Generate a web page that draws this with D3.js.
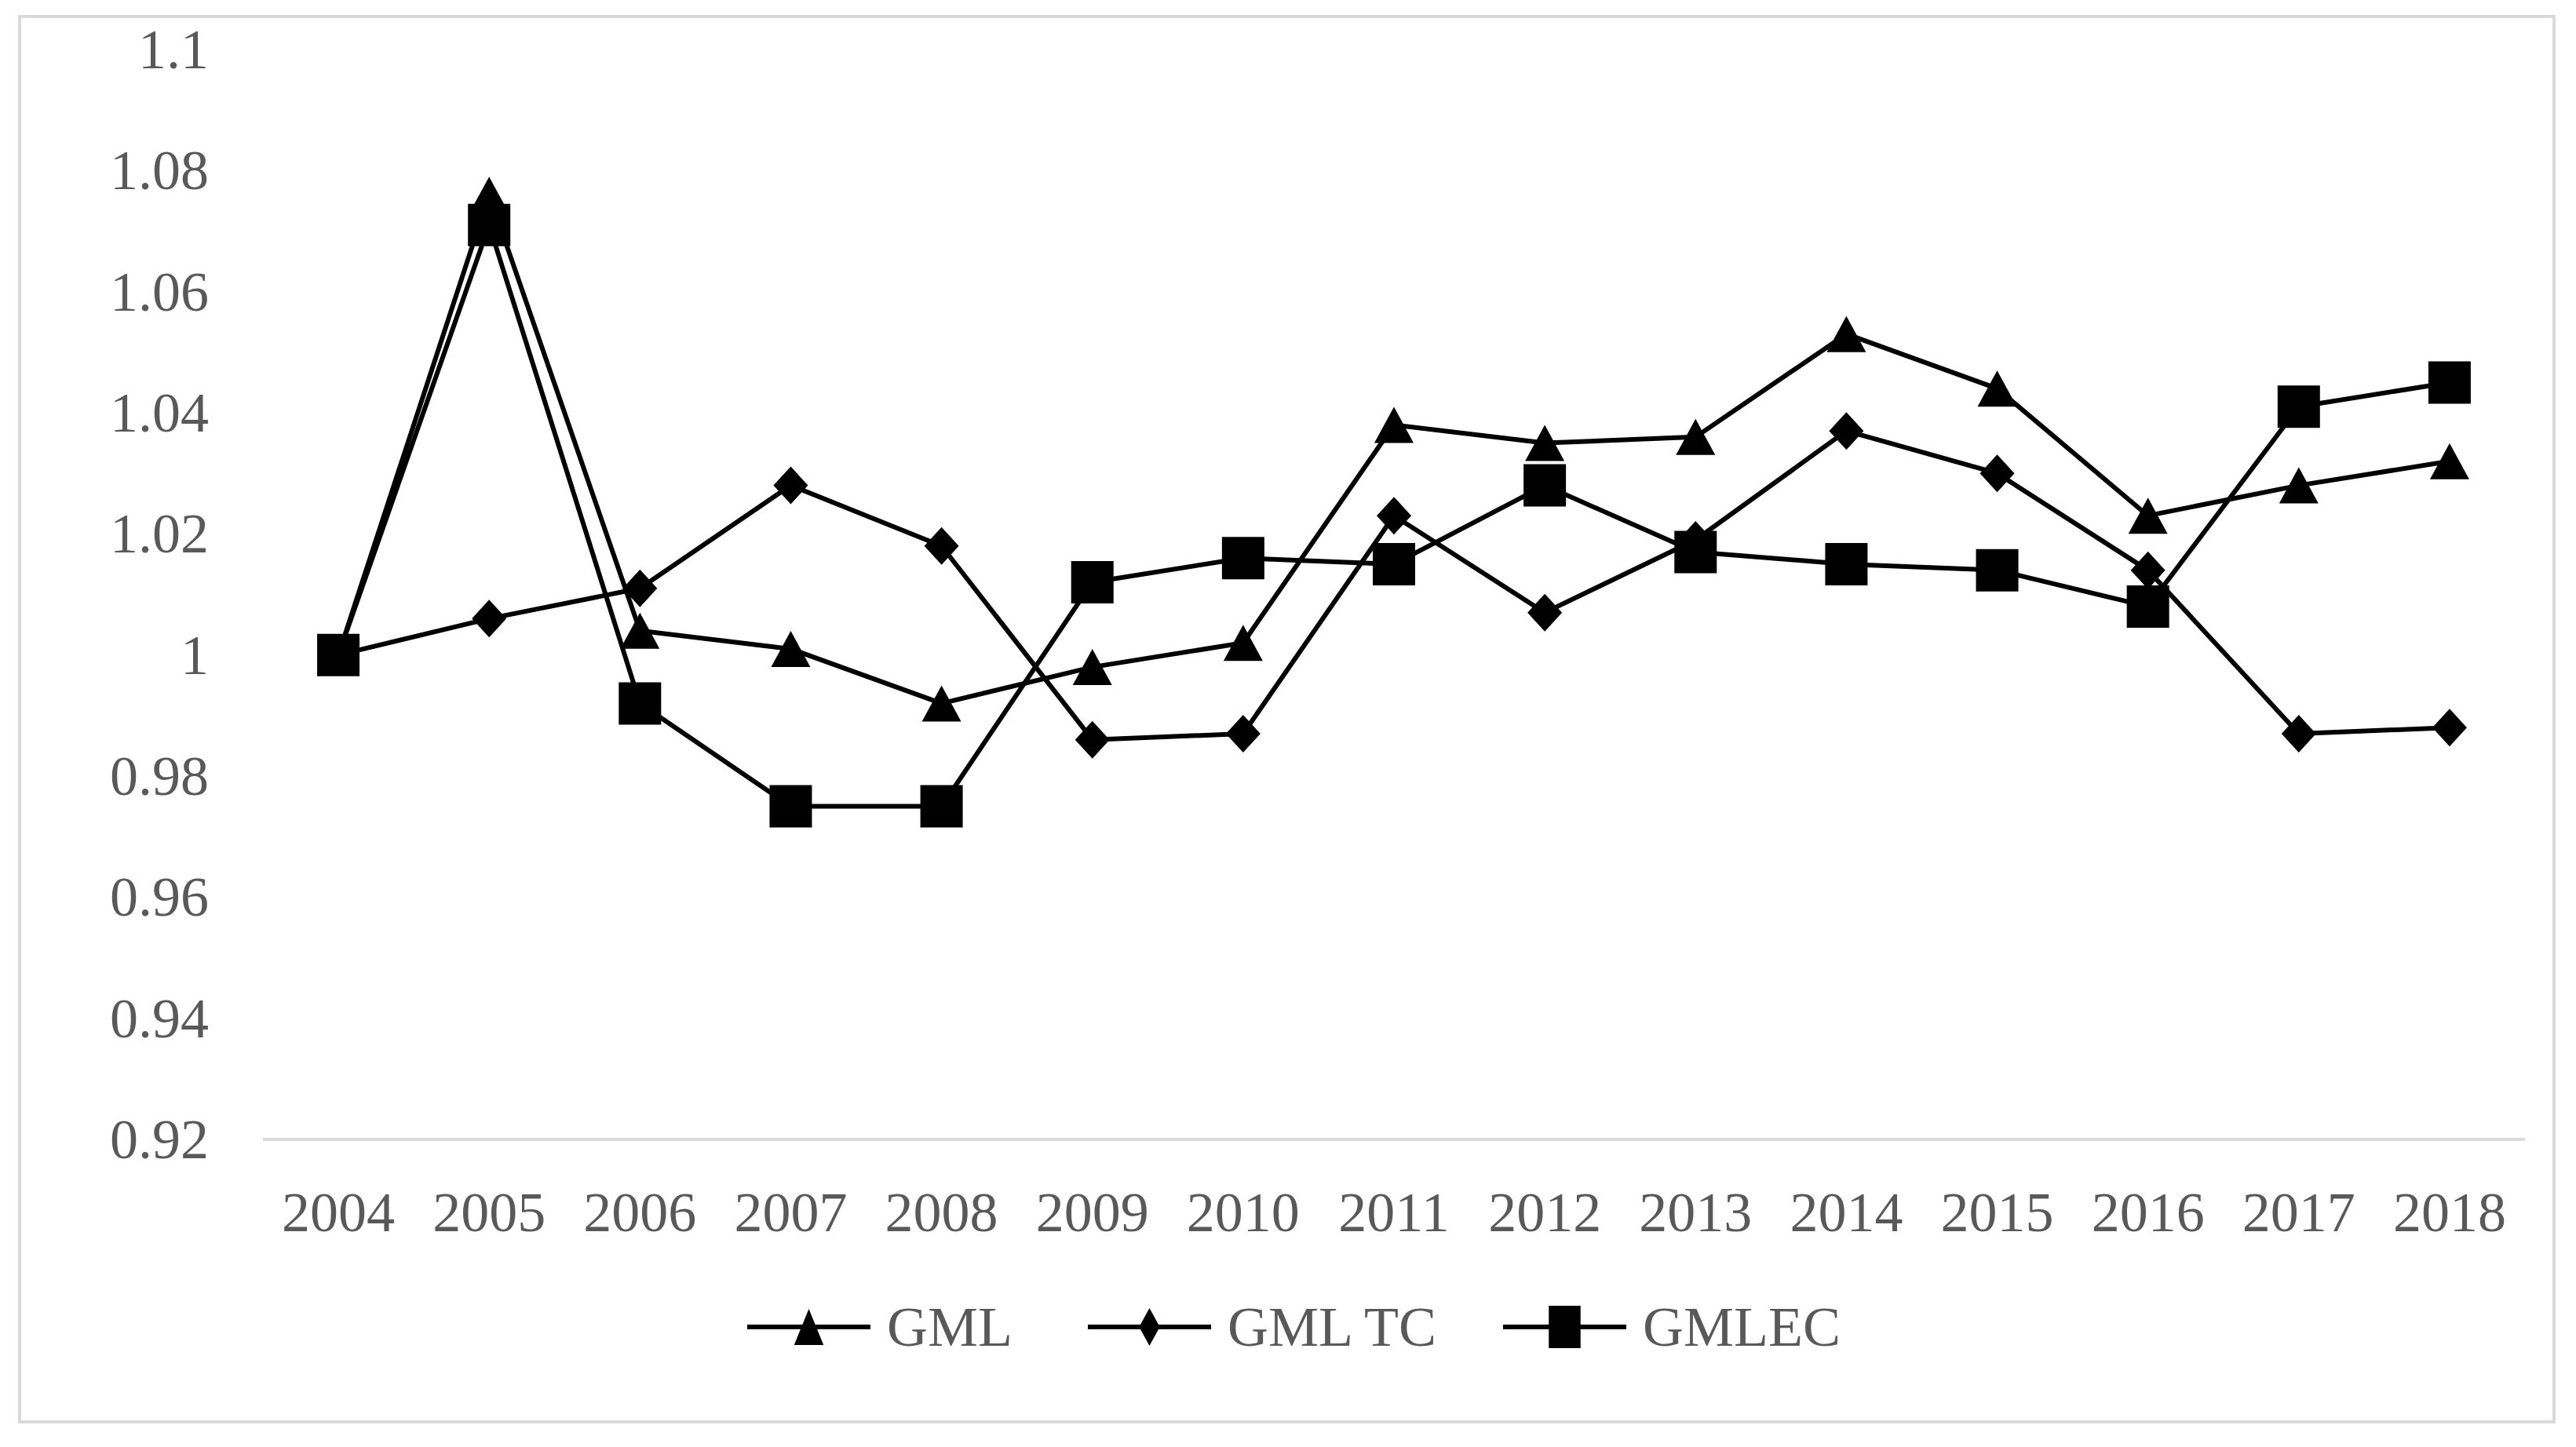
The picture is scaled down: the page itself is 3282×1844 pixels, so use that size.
<!DOCTYPE html>
<html>
<head>
<meta charset="utf-8">
<script src="https://cdn.jsdelivr.net/npm/d3@7"></script>
<style>
  html, body { margin: 0; padding: 0; background: #fff; }
  svg { display: block; }
</style>
</head>
<body>
<svg id="chart"></svg>
<script>
// data
const years = ["2004","2005","2006","2007","2008","2009","2010","2011","2012","2013","2014","2015","2016","2017","2018"];
const gml   = [1.000, 1.076, 1.004, 1.001, 0.992, 0.998, 1.002, 1.038, 1.035, 1.036, 1.053, 1.044, 1.023, 1.028, 1.032];
const gmlTC = [1.000, 1.006, 1.011, 1.028, 1.018, 0.986, 0.987, 1.023, 1.007, 1.019, 1.037, 1.030, 1.014, 0.987, 0.988];
const gmlEC = [1.000, 1.071, 0.992, 0.975, 0.975, 1.012, 1.016, 1.015, 1.028, 1.017, 1.015, 1.014, 1.008, 1.041, 1.045];
const yTicks = [0.92, 0.94, 0.96, 0.98, 1, 1.02, 1.04, 1.06, 1.08, 1.1];
const seriesNames = ["GML", "GML TC", "GMLEC"];

const W = 3282, H = 1844;
const font = "'Liberation Serif', 'Times New Roman', serif";
const textColor = "#595959";

const svg = d3.select("#chart")
    .attr("width", W)
    .attr("height", H);

// chart border
svg.append("rect")
    .attr("x", 25).attr("y", 21)
    .attr("width", 3229).attr("height", 1791)
    .attr("fill", "#fff")
    .attr("stroke", "#d9d9d9")
    .attr("stroke-width", 4);

let x = d3.scalePoint()
    .domain(years)
    .range([335, 3217])
    .padding(0.5);

let y = d3.scaleLinear()
    .domain([0.92, 1.1])
    .range([1452, 63]);

// y labels
svg.append("g")
    .selectAll("text")
    .data(yTicks)
    .enter()
    .append("text")
    .attr("x", 266)
    .attr("y", d => y(d))
    .attr("text-anchor", "end")
    .attr("dominant-baseline", "central")
    .style("font-family", font)
    .style("font-size", "72px")
    .attr("fill", textColor)
    .text(d => d3.format("")(d));

// x axis line
svg.append("line")
    .attr("x1", 335).attr("x2", 3217)
    .attr("y1", y(0.92)).attr("y2", y(0.92))
    .attr("stroke", "#d9d9d9")
    .attr("stroke-width", 4);

// x labels
svg.append("g")
    .selectAll("text")
    .data(years)
    .enter()
    .append("text")
    .attr("x", d => x(d))
    .attr("y", 1545)
    .attr("text-anchor", "middle")
    .attr("dominant-baseline", "central")
    .style("font-family", font)
    .style("font-size", "72px")
    .attr("fill", textColor)
    .text(d => d);

// marker shapes
const shapes = {
    triangle: (sx) => `M0,-23L${25*sx},23L${-25*sx},23Z`,
    diamond:  (sx) => `M0,-24L${22*sx},0L0,24L${-22*sx},0Z`,
    square:   (sx) => `M${-27*sx},-27H${27*sx}V27H${-27*sx}Z`
};

const series = [
    {name: seriesNames[0], values: gml,   shape: "triangle"},
    {name: seriesNames[1], values: gmlTC, shape: "diamond"},
    {name: seriesNames[2], values: gmlEC, shape: "square"}
];

let line = d3.line()
    .x((d, i) => x(years[i]))
    .y(d => y(d));

series.forEach(s => {
    let g = svg.append("g");
    g.append("path")
        .attr("d", line(s.values))
        .attr("fill", "none")
        .attr("stroke", "#000")
        .attr("stroke-width", 6)
        .attr("stroke-linejoin", "round");
    g.selectAll("path.mark")
        .data(s.values)
        .enter()
        .append("path")
        .attr("class", "mark")
        .attr("transform", (d, i) => "translate(" + x(years[i]) + "," + y(d) + ")")
        .attr("d", shapes[s.shape](1))
        .attr("fill", "#000");
});

// legend
const legendX = [952, 1386, 1915];
const legendY = 1691;
series.forEach((s, i) => {
    let g = svg.append("g").attr("transform", "translate(" + legendX[i] + "," + legendY + ")");
    g.append("line")
        .attr("x1", 0).attr("x2", 157)
        .attr("y1", 0).attr("y2", 0)
        .attr("stroke", "#000")
        .attr("stroke-width", 6);
    g.append("path")
        .attr("transform", "translate(78.5,0)")
        .attr("d", shapes[s.shape](s.shape === "diamond" ? 0.6 : 0.75))
        .attr("fill", "#000");
    g.append("text")
        .attr("x", 178)
        .attr("y", 0)
        .attr("dominant-baseline", "central")
        .style("font-family", font)
        .style("font-size", "72px")
        .attr("fill", textColor)
        .text(s.name);
});
</script>
</body>
</html>
